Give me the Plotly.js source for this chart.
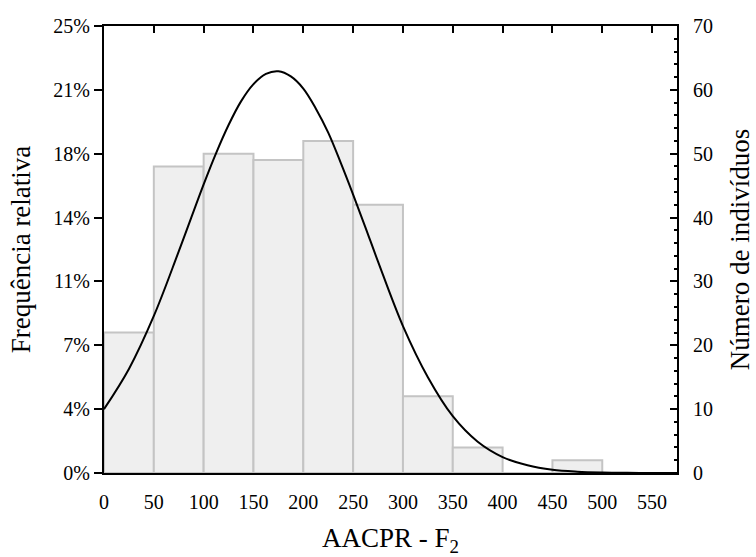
<!DOCTYPE html>
<html>
<head>
<meta charset="utf-8">
<script src="https://cdn.plot.ly/plotly-3.0.1.min.js"></script>
<style>html,body{margin:0;padding:0;background:#fff;}#chart{width:756px;height:557px;}</style>
</head>
<body>
<div id="chart"></div>
<script>
// Histogram bins (AACPR - F2), bin start values and counts
var binStarts = [0, 50, 100, 150, 200, 250, 300, 350, 400, 450];
var binWidth = 50;
var counts = [22, 48, 50, 49, 52, 42, 12, 4, 0, 2];

// Fitted curve points (x, expected count)
var curveX = [0, 25, 50, 75, 100, 112.5, 125, 137.5, 150, 162.5, 175, 187.5, 200, 212.5, 225, 237.5, 250, 262.5, 275, 300, 325, 350, 375, 400, 425, 450, 475, 500, 525, 550, 575];
var curveY = [10.0, 16.3, 24.6, 34.7, 45.2, 50.1, 54.5, 58.2, 60.9, 62.5, 62.9, 62.1, 60.2, 57.1, 53.3, 48.6, 43.6, 38.4, 33.1, 23.0, 15.0, 8.9, 4.9, 2.5, 1.2, 0.5, 0.2, 0.07, 0.02, 0.005, 0];

// Axis ticks
var countTicks = [0, 10, 20, 30, 40, 50, 60, 70];
var pctLabels = ['0%', '4%', '7%', '11%', '14%', '18%', '21%', '25%'];
var xTicks = [0, 50, 100, 150, 200, 250, 300, 350, 400, 450, 500, 550];

var binCenters = binStarts.map(function (s) { return s + binWidth / 2; });

var font = {family: 'Liberation Serif, Times New Roman, serif', color: '#000', size: 20};
var titleFont = {family: 'Liberation Serif, Times New Roman, serif', color: '#000', size: 27};

var traces = [
  {
    type: 'bar',
    x: binCenters,
    y: counts,
    width: binWidth,
    xaxis: 'x',
    yaxis: 'y',
    marker: {color: '#efefef', line: {color: '#c4c4c4', width: 2}},
    hoverinfo: 'skip',
    showlegend: false
  },
  {
    type: 'scatter',
    mode: 'lines',
    x: curveX,
    y: curveY,
    xaxis: 'x2',
    yaxis: 'y2',
    line: {color: '#000', width: 2, shape: 'spline', smoothing: 1},
    hoverinfo: 'skip',
    showlegend: false
  }
];

var layout = {
  width: 756,
  height: 557,
  margin: {l: 104, r: 79, t: 26, b: 84},
  paper_bgcolor: '#fff',
  plot_bgcolor: '#fff',
  font: font,
  bargap: 0,
  showlegend: false,
  xaxis: {
    range: [0, 575],
    tickvals: xTicks,
    ticktext: xTicks.map(String),
    ticks: '',
    ticklabelstandoff: 10,
    showline: true,
    linecolor: '#000',
    linewidth: 2,
    mirror: true,
    showgrid: false,
    zeroline: false,
    tickfont: font
  },
  xaxis2: {
    range: [0, 575],
    overlaying: 'x',
    side: 'top',
    tickvals: xTicks,
    ticks: 'inside',
    ticklen: 7,
    tickwidth: 2,
    tickcolor: '#000',
    showticklabels: false,
    showline: false,
    showgrid: false,
    zeroline: false
  },
  yaxis: {
    range: [0, 70],
    tickvals: countTicks,
    ticktext: pctLabels,
    ticks: 'outside',
    ticklen: 8,
    tickwidth: 2,
    tickcolor: '#000',
    showline: true,
    linecolor: '#000',
    linewidth: 2,
    showgrid: false,
    zeroline: false,
    tickfont: font,
    title: {text: 'Frequência relativa', font: titleFont, standoff: 15}
  },
  yaxis2: {
    range: [0, 70],
    overlaying: 'y',
    side: 'right',
    tickvals: countTicks,
    ticktext: countTicks.map(String),
    ticks: 'inside',
    ticklen: 7,
    tickwidth: 2,
    tickcolor: '#000',
    ticklabelstandoff: 10,
    minor: {dtick: 2, ticks: 'inside', ticklen: 3, tickwidth: 2, tickcolor: '#000'},
    showline: true,
    linecolor: '#000',
    linewidth: 2,
    showgrid: false,
    zeroline: false,
    tickfont: font,
    title: {text: 'Número de indivíduos', font: titleFont, standoff: 18}
  },
  annotations: [
    {
      text: 'AACPR - F<sub>2</sub>',
      xref: 'paper', yref: 'paper',
      x: 0.5, y: -0.108,
      xanchor: 'center', yanchor: 'top',
      showarrow: false,
      font: titleFont
    }
  ]
};

Plotly.newPlot('chart', traces, layout, {displayModeBar: false, staticPlot: true});
</script>
</body>
</html>
